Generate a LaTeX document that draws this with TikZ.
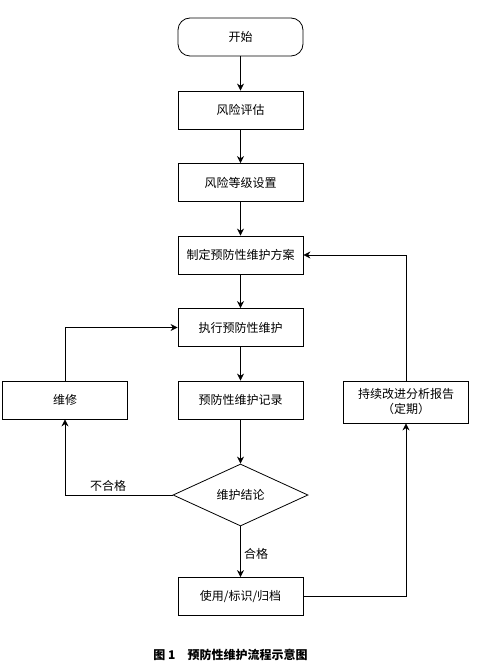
\documentclass[tikz,border=0pt]{standalone}
\usepackage{fontspec}
\setmainfont{Noto Sans CJK SC}
\usetikzlibrary{shapes.geometric,arrows.meta}

\tikzset{
    stepbox/.style={draw, minimum width=125pt, minimum height=38pt, inner sep=2pt, font=\fontsize{12pt}{15pt}\selectfont},
    startbox/.style={stepbox, rounded corners=12pt},
    decide/.style={draw, shape=diamond, minimum width=135pt, minimum height=62pt, inner sep=0pt, font=\fontsize{12pt}{15pt}\selectfont},
    flow/.style={-{Stealth[length=7pt,width=7pt]}},
    tag/.style={font=\fontsize{12pt}{15pt}\selectfont}
}

\begin{document}
\begin{tikzpicture}[x=1pt, y=-1pt, line width=0.8pt]
        \useasboundingbox (0, 0) rectangle (484, 668);
        \node [startbox] (start) at (240.5, 37) {开始};
        \node [stepbox] (assess) at (240.5, 110) {风险评估};
        \node [stepbox] (grade) at (240.5, 182.5) {风险等级设置};
        \node [stepbox] (plan) at (240.5, 255) {制定预防性维护方案};
        \node [stepbox] (exec) at (240.5, 327.5) {执行预防性维护};
        \node [stepbox] (record) at (240.5, 400) {预防性维护记录};
        \node [stepbox] (repair) at (65, 400) {维修};
        \node [stepbox, minimum height=42pt, align=center] (report) at (406, 402) {持续改进分析报告\\（定期）};
        \node [decide] (verdict) at (240.5, 495) {维护结论};
        \node [stepbox] (use) at (240.5, 596.5) {使用/标识/归档};
        \node [tag, font=\fontsize{12pt}{15pt}\selectfont\bfseries] (caption) at (230.5, 655) {图 1\quad 预防性维护流程示意图};
        \draw [flow] (start) -- (assess);
        \draw [flow] (assess) -- (grade);
        \draw [flow] (grade) -- (plan);
        \draw [flow] (plan) -- (exec);
        \draw [flow] (exec) -- (record);
        \draw [flow] (record) -- (verdict);
        \draw [flow] (verdict) -- node [tag, right, pos=0.55] {合格} (use);
        \draw [flow] (verdict.west) -| node [tag, above, pos=0.3] {不合格} (repair.south);
        \draw [flow] (repair.north) |- (exec.west);
        \draw [flow] (use.east) -| (report.south);
        \draw [flow] (report.north) |- (plan.east);
    \end{tikzpicture}
\end{document}
